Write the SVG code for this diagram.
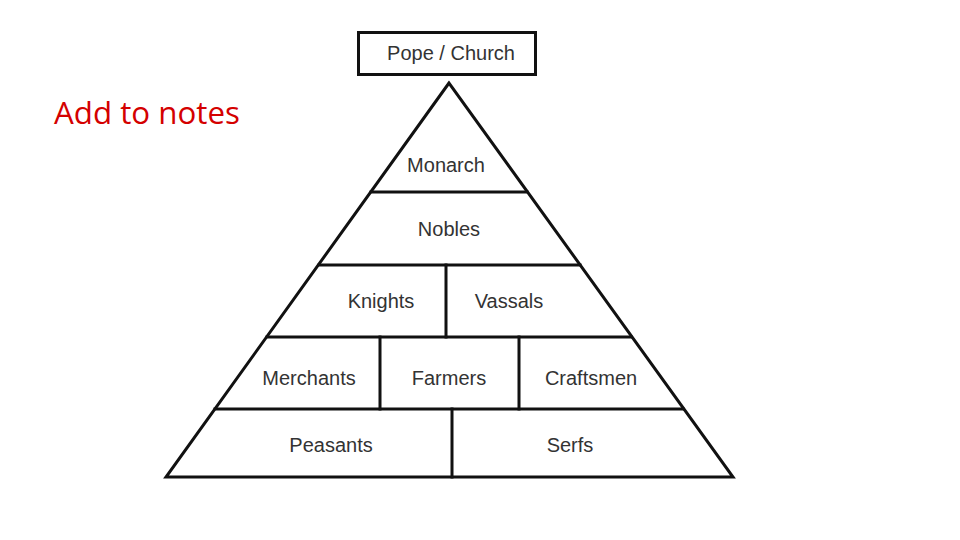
<svg xmlns="http://www.w3.org/2000/svg" width="960" height="540" viewBox="0 0 960 540">
<style>
.ln{stroke:#111;stroke-width:3;fill:none;stroke-linecap:square}
.lb{font-family:"Liberation Sans",Arial,sans-serif;font-size:20px;fill:#333;text-anchor:middle}
</style>
<rect width="960" height="540" fill="#fff"/>
<text x="54" y="124" font-family="'Open Sans','Liberation Sans',sans-serif" font-size="31" fill="#d40000" textLength="186" lengthAdjust="spacingAndGlyphs">Add to notes</text>
<g id="pope"><rect x="358.5" y="32.5" width="177" height="42" class="ln"/><text x="451" y="60" class="lb">Pope / Church</text></g>
<g id="connectors">
<path class="ln" d="M449 83 L166 477 L733 477 Z"/>
<path class="ln" d="M371 192 H527 M319 265 H580 M267 337 H631 M215 409 H683"/>
<path class="ln" d="M446 265 V337 M380 337 V409 M519 337 V409 M452 409 V477"/>
</g>
<g id="monarch"><text x="446" y="172" class="lb">Monarch</text></g>
<g id="nobles"><text x="449" y="236" class="lb">Nobles</text></g>
<g id="knights"><text x="381" y="308" class="lb">Knights</text></g>
<g id="vassals"><text x="509" y="308" class="lb">Vassals</text></g>
<g id="merchants"><text x="309" y="385" class="lb">Merchants</text></g>
<g id="farmers"><text x="449" y="385" class="lb">Farmers</text></g>
<g id="craftsmen"><text x="591" y="385" class="lb">Craftsmen</text></g>
<g id="peasants"><text x="331" y="452" class="lb">Peasants</text></g>
<g id="serfs"><text x="570" y="452" class="lb">Serfs</text></g>
</svg>
